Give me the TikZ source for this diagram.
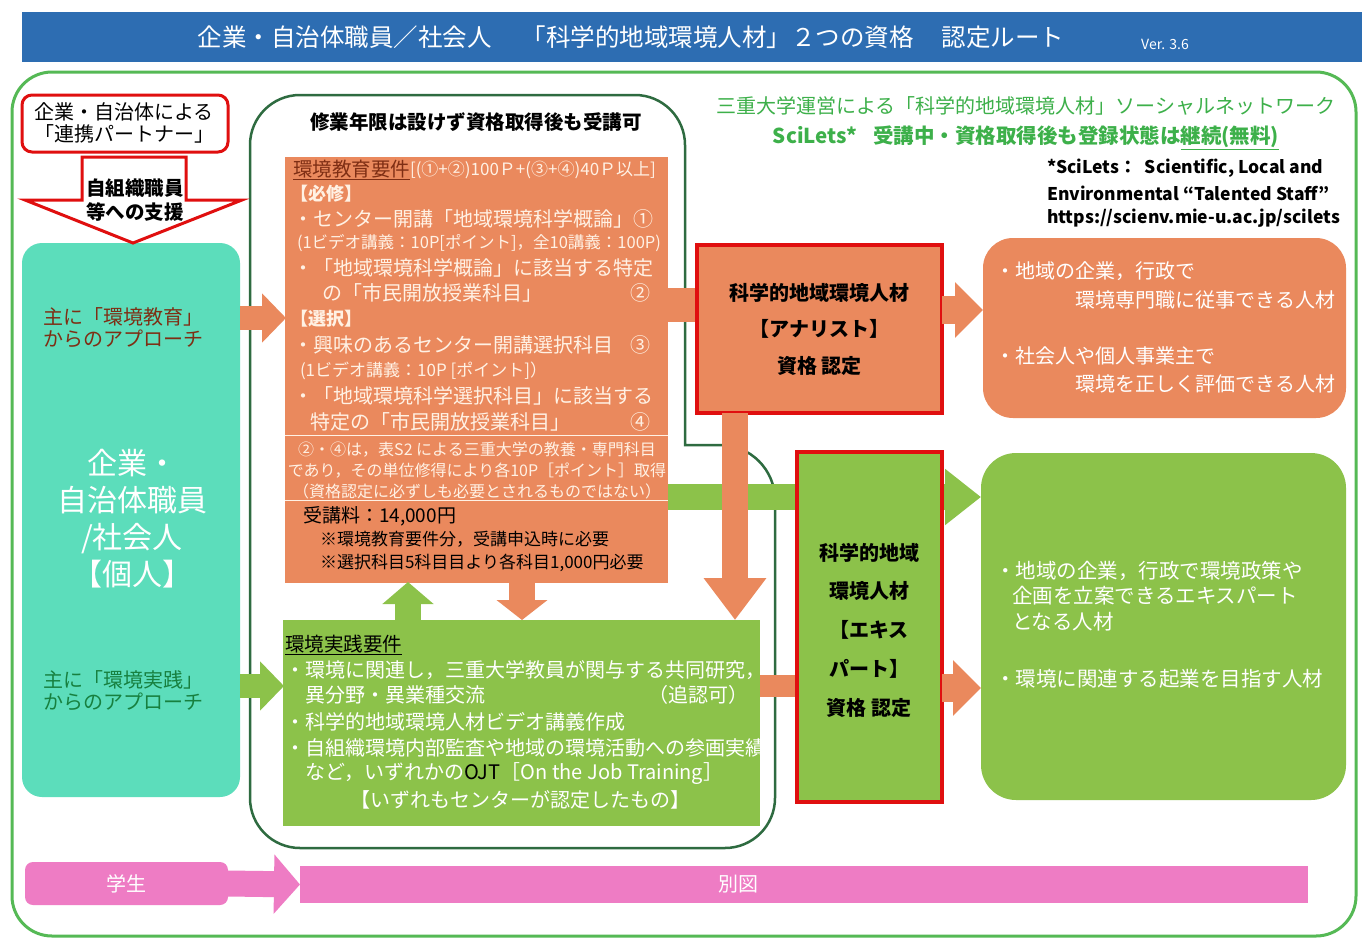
\documentclass[tikz,border=0pt]{standalone}
\usepackage{fontspec}
\setmainfont{Noto Sans CJK JP}
\usetikzlibrary{arrows.meta}
\definecolor{tblue}{HTML}{2D6DB2}
\definecolor{ogreen}{HTML}{55B955}
\definecolor{dgreen}{HTML}{2E6B40}
\definecolor{orng}{HTML}{EA895D}
\definecolor{lgreen}{HTML}{8CC24A}
\definecolor{mint}{HTML}{5CDDBB}
\definecolor{pinkc}{HTML}{EE7CC4}
\definecolor{rred}{HTML}{E00F0F}
\definecolor{cream}{HTML}{FFF1E4}
\definecolor{brownc}{HTML}{7E2E14}
\definecolor{tgreen}{HTML}{17803F}
\definecolor{sgreen}{HTML}{3DB04A}
\tikzset{
  every node/.style={inner sep=0pt, outer sep=0pt},
  fz/.style={font=\fontsize{#1}{#1}\selectfont},
  fzb/.style={font=\fontsize{#1}{#1}\selectfont\bfseries},
  tl/.style={anchor=west},
  rbox/.style={anchor=north west},
  barrow/.style n args={4}{draw=#1, line width=#2, -{Triangle[length=#3,width=#4]}},
}
\begin{document}
\begin{tikzpicture}[x=1pt,y=-1pt]
\useasboundingbox (0,0) rectangle (1368,940);
\fill[white] (0,0) rectangle (1368,940);
% title
\node[rbox, fill=tblue, minimum width=1340pt, minimum height=50pt] (bar) at (22,12) {};
\node[fz=24.5, text=white] (title) at (631,37) {企業・自治体職員／社会人\hspace{30pt}「科学的地域環境人材」２つの資格\hspace{28pt}認定ルート};
\node[fz=14, text=white] (ver) at (1165,44) {Ver. 3.6};
% outer frame
\draw[ogreen, line width=3pt, rounded corners=40pt] (12,72) rectangle (1356,936);
% inner dark green frame
\draw[dgreen, line width=2.5pt] (250,500) -- (250,145) arc[start angle=180,end angle=270,radius=50]
  -- (635,95) arc[start angle=270,end angle=360,radius=50] -- (685,445) -- (720,445)
  arc[start angle=270,end angle=360,radius=55] -- (775,798) arc[start angle=0,end angle=90,radius=50]
  -- (300,848) arc[start angle=90,end angle=180,radius=50] -- cycle;
\node[fzb=19.5] (frametitle) at (476,122) {修業年限は設けず資格取得後も受講可};
% left column
\node[rbox, fill=mint, rounded corners=20pt, minimum width=218pt, minimum height=554pt] (indiv) at (22,243) {};
\draw[rred, line width=3pt, fill=white] (82,157) -- (186,157) -- (186,200) -- (242,200) -- (133,243) -- (25,200) -- (82,200) -- cycle;
\node[rbox, draw=rred, line width=3pt, fill=white, rounded corners=10pt, minimum width=206pt, minimum height=57pt] (partner) at (22,95) {};
\node[align=center, font=\fontsize{20}{22}\selectfont] (partnert) at (124,123) {企業・自治体による\\「連携パートナー」};
\node[align=center, font=\fontsize{19.5}{24}\selectfont\bfseries] (support) at (135,200) {自組織職員\\等への支援};
\node[align=center, font=\fontsize{20}{22}\selectfont, text=brownc] (appedu) at (123,328) {主に「環境教育」\\からのアプローチ};
\node[align=center, font=\fontsize{30}{37}\selectfont, text=white] (indivt) at (132,519) {企業・\\自治体職員\\/社会人\\【個人】};
\node[align=center, font=\fontsize{20}{22}\selectfont, text=tgreen] (appprac) at (123,691) {主に「環境実践」\\からのアプローチ};
% education requirement box
\node[rbox, fill=orng, minimum width=383pt, minimum height=426pt] (edu) at (285,157) {};
\draw[cream, line width=1pt] (285,435) -- (668,435) (285,500) -- (668,500);
\node[tl, fz=19.5, text=brownc] (e1) at (293,170) {\underline{環境教育要件}};
\node[tl, fz=17, text=cream] (e1b) at (e1.east) {[(①+②)100Ｐ+(③+④)40Ｐ以上]};
\node[tl, fzb=18, text=cream] (e2) at (290,194) {【必修】};
\node[tl, fz=20, text=cream] (e3) at (293,219) {・センター開講「地域環境科学概論」①};
\node[tl, fz=16.5, text=cream] (e4) at (297,243) {(1ビデオ講義：10P[ポイント]，全10講義：100P)};
\node[tl, fz=20, text=cream] (e5) at (293,268) {・「地域環境科学概論」に該当する特定};
\node[tl, fz=20, text=cream] (e6) at (322,293) {の「市民開放授業科目」};
\node[fz=20, text=cream] (e6b) at (640,293) {②};
\node[tl, fzb=18, text=cream] (e7) at (290,319) {【選択】};
\node[tl, fz=20, text=cream] (e8) at (293,345) {・興味のあるセンター開講選択科目};
\node[fz=20, text=cream] (e8b) at (640,345) {③};
\node[tl, fz=17, text=cream] (e9) at (300,371) {(1ビデオ講義：10P [ポイント]）};
\node[tl, fz=20, text=cream] (e10) at (293,396) {・「地域環境科学選択科目」に該当する};
\node[tl, fz=20, text=cream] (e11) at (310,422) {特定の「市民開放授業科目」};
\node[fz=20, text=cream] (e11b) at (640,422) {④};
\node[align=center, font=\fontsize{16}{21}\selectfont, text=cream] (note) at (477,470) {②・④は，表S2 による三重大学の教養・専門科目\\であり，その単位修得により各10P［ポイント］取得\\（資格認定に必ずしも必要とされるものではない）};
\node[tl, fz=19] (fee1) at (303,516) {受講料：14,000円};
\node[tl, fz=17] (fee2) at (320,539) {※環境教育要件分，受講申込時に必要};
\node[tl, fz=17] (fee3) at (320,563) {※選択科目5科目目より各科目1,000円必要};
% practice requirement box
\node[rbox, fill=lgreen, minimum width=477pt, minimum height=206pt] (prac) at (283,620) {};
\node[tl, fz=19.5] (p1) at (285,645) {\underline{環境実践要件}};
\node[tl, fz=20, text=white] (p2) at (285,670) {・環境に関連し，三重大学教員が関与する共同研究，};
\node[tl, fz=20, text=white] (p3) at (305,695) {異分野・異業種交流};
\node[tl, fz=20, text=white] (p3b) at (648,695) {（追認可）};
\node[tl, fz=20, text=white] (p4) at (285,722) {・科学的地域環境人材ビデオ講義作成};
\node[tl, fz=20, text=white] (p5) at (285,748) {・自組織環境内部監査や地域の環境活動への参画実績};
\node[tl, fz=20, text=white] (p6) at (305,774) {など，いずれかの\textcolor{black}{OJT}［On the Job Training］};
\node[fz=20, text=white] (p7) at (520,800) {【いずれもセンターが認定したもの】};
% arrows (behind certification boxes)
\coordinate (a1s) at (240,318); \coordinate (a1e) at (286,318);
\coordinate (a2s) at (240,686); \coordinate (a2e) at (284,686);
\coordinate (a3s) at (408,620); \coordinate (a3e) at (408,582);
\coordinate (a4s) at (522,583); \coordinate (a4e) at (522,620);
\coordinate (g1s) at (668,497); \coordinate (g1e) at (981,497);
\draw[barrow={orng}{24pt}{24pt}{48pt}] (a1s) -- (a1e);
\draw[barrow={lgreen}{24pt}{24pt}{48pt}] (a2s) -- (a2e);
\draw[barrow={lgreen}{26pt}{22pt}{50pt}] (a3s) -- (a3e);
\draw[barrow={orng}{26pt}{20pt}{50pt}] (a4s) -- (a4e);
\draw[barrow={lgreen}{26pt}{36pt}{54pt}] (g1s) -- (g1e);
\draw[orng, line width=34pt] (edu.east |- 0,305) -- (700,305);
\draw[orng, line width=22pt] (prac.east |- 0,686) -- (800,686);
% analyst
\node[rbox, fill=orng, draw=rred, line width=4pt, minimum width=245pt, minimum height=168pt] (analyst) at (697,245) {};
\node[align=center, font=\fontsize{20}{36.5}\selectfont\bfseries] (analystt) at (analyst.center) {科学的地域環境人材\\【アナリスト】\\資格 認定};
\coordinate (d1e) at (735,620);
\draw[barrow={orng}{26pt}{42pt}{60pt}] (analyst.south -| d1e) -- (d1e);
% expert
\node[rbox, fill=lgreen, draw=rred, line width=4pt, minimum width=145pt, minimum height=350pt] (expert) at (797,452) {};
\node[align=center, font=\fontsize{20}{38.7}\selectfont\bfseries] (expertt) at (869,630) {科学的地域\\環境人材\\【エキス\\パート】\\資格 認定};
% outcomes
\node[rbox, fill=orng, rounded corners=30pt, minimum width=363pt, minimum height=180pt] (outA) at (983,238) {};
\node[rbox, fill=lgreen, rounded corners=35pt, minimum width=365pt, minimum height=347pt] (outE) at (981,453) {};
\coordinate (r1) at (983,310); \coordinate (r2) at (981,688);
\draw[barrow={orng}{28pt}{28pt}{54pt}] (analyst.east |- r1) -- (r1);
\draw[barrow={orng}{28pt}{28pt}{54pt}] (expert.east |- r2) -- (r2);
\node[tl, fz=20, text=white] (oa1) at (995,271) {・地域の企業，行政で};
\node[anchor=east, fz=20, text=white] (oa2) at (1335,300) {環境専門職に従事できる人材};
\node[tl, fz=20, text=white] (oa3) at (995,356) {・社会人や個人事業主で};
\node[anchor=east, fz=20, text=white] (oa4) at (1335,384) {環境を正しく評価できる人材};
\node[tl, fz=20.5, text=white] (oe1) at (995,571) {・地域の企業，行政で環境政策や};
\node[tl, fz=20.5, text=white] (oe2) at (1012,596) {企画を立案できるエキスパート};
\node[tl, fz=20.5, text=white] (oe3) at (1012,622) {となる人材};
\node[tl, fz=20.5, text=white] (oe4) at (995,679) {・環境に関連する起業を目指す人材};
% SciLets
\node[fz=20, text=sgreen] (sn1) at (1026,106) {三重大学運営による「科学的地域環境人材」ソーシャルネットワーク};
\node[fzb=20.5, text=sgreen] (sn2) at (1026,138) {SciLets*\hspace{16pt}受講中・資格取得後も登録状態は\underline{継続(無料)}};
\node[tl, fzb=17.5] (sl1) at (1047,168) {*SciLets：\hspace{8pt}Scientific, Local and};
\node[tl, fzb=17.5] (sl2) at (1047,193) {Environmental “Talented Staff”};
\node[tl, fzb=17.5] (sl3) at (1047,218) {https://scienv.mie-u.ac.jp/scilets};
% students
\node[rbox, fill=pinkc, rounded corners=8pt, minimum width=203pt, minimum height=43pt] (stud) at (25,862) {};
\node[rbox, fill=pinkc, minimum width=1008pt, minimum height=37pt] (sep) at (300,866) {};
\draw[barrow={pinkc}{26pt}{26pt}{58pt}] (stud.east) -- (sep.west);
\node[fz=20, text=white] (studt) at (stud.center) {学生};
\node[fz=20, text=white] (sept) at (738,884) {別図};
\end{tikzpicture}
\end{document}
